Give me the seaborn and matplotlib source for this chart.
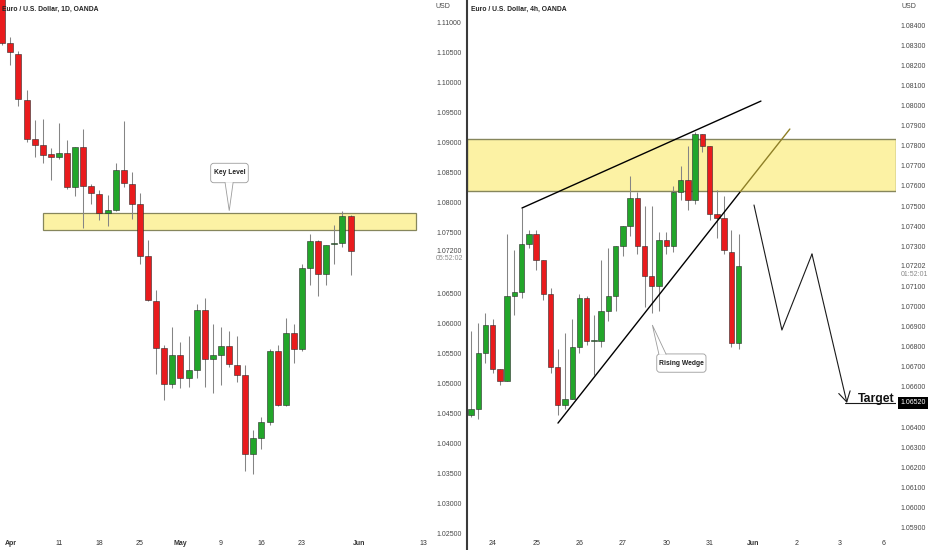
import matplotlib
matplotlib.use('Agg')
import matplotlib.pyplot as plt
import matplotlib.transforms as mtransforms
from matplotlib.lines import Line2D
from matplotlib.patches import Rectangle, FancyBboxPatch, Polygon
import seaborn as sns
import numpy as np

# EUR/USD daily (index 0 = Apr 1, -1 = Mar 31)
d_idx = list(range(-1, 43))
d_open = [1.1160, 1.1067, 1.1049, 1.0972, 1.0906, 1.0897, 1.0881, 1.0877, 1.0884, 1.0827,
          1.0893, 1.0829, 1.0815, 1.0783, 1.0789, 1.0855, 1.0832, 1.0798, 1.0712, 1.0637,
          1.0559, 1.0499, 1.0546, 1.0508, 1.0521, 1.0622, 1.0540, 1.0546, 1.0561, 1.0530,
          1.0514, 1.0382, 1.0408, 1.0435, 1.0554, 1.0463, 1.0584, 1.0556, 1.0692, 1.0736,
          1.0681, 1.0731, 1.0734, 1.0779]
d_high = [1.1182, 1.1076, 1.1054, 1.0988, 1.0938, 1.0940, 1.0891, 1.0934, 1.0905, 1.0894,
          1.0924, 1.0831, 1.0821, 1.0814, 1.0867, 1.0937, 1.0851, 1.0816, 1.0739, 1.0655,
          1.0564, 1.0594, 1.0569, 1.0578, 1.0631, 1.0642, 1.0599, 1.0594, 1.0586, 1.0578,
          1.0530, 1.0421, 1.0444, 1.0557, 1.0564, 1.0608, 1.0599, 1.0698, 1.0749, 1.0739,
          1.0730, 1.0764, 1.0787, 1.0780]
d_low = [1.1063, 1.1030, 1.0962, 1.0901, 1.0876, 1.0866, 1.0838, 1.0874, 1.0823, 1.0811,
         1.0758, 1.0798, 1.0771, 1.0762, 1.0786, 1.0826, 1.0773, 1.0699, 1.0636, 1.0515,
         1.0472, 1.0492, 1.0491, 1.0494, 1.0508, 1.0494, 1.0484, 1.0497, 1.0526, 1.0502,
         1.0353, 1.0349, 1.0390, 1.0430, 1.0462, 1.0462, 1.0534, 1.0553, 1.0663, 1.0645,
         1.0663, 1.0698, 1.0727, 1.0680]
d_close = [1.1067, 1.1051, 1.0973, 1.0906, 1.0897, 1.0880, 1.0877, 1.0884, 1.0827, 1.0893,
           1.0829, 1.0816, 1.0783, 1.0789, 1.0855, 1.0833, 1.0798, 1.0712, 1.0638, 1.0559,
           1.0499, 1.0546, 1.0508, 1.0521, 1.0622, 1.0540, 1.0546, 1.0561, 1.0531, 1.0514,
           1.0382, 1.0408, 1.0435, 1.0554, 1.0463, 1.0584, 1.0556, 1.0692, 1.0736, 1.0681,
           1.0730, 1.0734, 1.0779, 1.0720]
d_tick_pos = [0, 6, 11, 16, 21, 26, 31, 36, 43, 51]
d_tick_lab = ['Apr', '11', '18', '25', 'May', '9', '16', '23', 'Jun', '13']
d_price_ticks = [1.110, 1.105, 1.100, 1.095, 1.090, 1.085, 1.080, 1.075, 1.072,
                 1.065, 1.060, 1.055, 1.050, 1.045, 1.040, 1.035, 1.030, 1.025]
d_zone = [4.0, 50.07, 1.0755, 1.07828]

# EUR/USD 4h (bar 0 = first bar shown)
h_idx = list(range(0, 38))
h_open = [1.0646, 1.0649, 1.0677, 1.0691, 1.0669, 1.0663, 1.0705, 1.0707, 1.0731, 1.0736,
          1.0723, 1.0706, 1.0670, 1.0651, 1.0654, 1.0680, 1.0704, 1.0683, 1.0683, 1.0698,
          1.0705, 1.0730, 1.0740, 1.0754, 1.0730, 1.0715, 1.0710, 1.0733, 1.0730, 1.0757,
          1.0763, 1.0753, 1.0786, 1.0780, 1.0746, 1.0744, 1.0727, 1.0682]
h_high = [1.0688, 1.0692, 1.0697, 1.0694, 1.0669, 1.0736, 1.0728, 1.0749, 1.0738, 1.0738,
          1.0723, 1.0709, 1.0679, 1.0687, 1.0694, 1.0706, 1.0705, 1.0696, 1.0723, 1.0729,
          1.0730, 1.0740, 1.0765, 1.0757, 1.0750, 1.0750, 1.0737, 1.0737, 1.0760, 1.0770,
          1.0780, 1.0787, 1.0786, 1.0780, 1.0758, 1.0755, 1.0738, 1.0736]
h_low = [1.0645, 1.0644, 1.0672, 1.0667, 1.0661, 1.0663, 1.0696, 1.0704, 1.0729, 1.0718,
         1.0703, 1.0667, 1.0646, 1.0649, 1.0654, 1.0677, 1.0681, 1.0666, 1.0680, 1.0693,
         1.0698, 1.0725, 1.0735, 1.0726, 1.0700, 1.0697, 1.0698, 1.0726, 1.0727, 1.0753,
         1.0748, 1.0751, 1.0777, 1.0743, 1.0734, 1.0726, 1.0680, 1.0679]
h_close = [1.0649, 1.0677, 1.0691, 1.0669, 1.0663, 1.0705, 1.0707, 1.0731, 1.0736, 1.0723,
           1.0706, 1.0670, 1.0651, 1.0654, 1.0680, 1.0704, 1.0683, 1.0683, 1.0698, 1.0705,
           1.0730, 1.0740, 1.0754, 1.0730, 1.0715, 1.0710, 1.0733, 1.0730, 1.0757, 1.0763,
           1.0753, 1.0786, 1.0780, 1.0746, 1.0744, 1.0728, 1.0682, 1.0720]
h_tick_pos = [3, 9, 15, 21, 27, 33, 39, 45, 51, 57]
h_tick_lab = ['24', '25', '26', '27', '30', '31', 'Jun', '2', '3', '6']
h_price_ticks = [1.084, 1.083, 1.082, 1.081, 1.080, 1.079, 1.078, 1.077, 1.076, 1.075,
                 1.074, 1.073, 1.07202, 1.071, 1.070, 1.069, 1.068, 1.067, 1.066,
                 1.064, 1.063, 1.062, 1.061, 1.060, 1.059]
h_zone = [1.07575, 1.07833]

# drawings on the 4h chart (bar index, price)
wedge_up_x, wedge_up_y = [7.05, 40.1], [1.0749, 1.08022]
wedge_lo_x, wedge_lo_y = [12.03, 37.25], [1.0642, 1.07571]
wedge_ext_x, wedge_ext_y = [37.25, 44.1], [1.07571, 1.07883]
path_x, path_y = [39.14, 43.0, 47.16], [1.07505, 1.06883, 1.07261]
arrow_end = (52.0, 1.0652)
target_price = 1.0652
target_line_x = [51.7, 58.8]

GREEN = '#22a62a'
RED = '#e91b1d'
ZONE_FC = '#fcf2a4'
ZONE_EC = '#86865c'

sns.set_theme(style='white')
plt.rcParams['font.family'] = ['Liberation Sans', 'DejaVu Sans']


def draw_candles(ax, x, o, h, l, c, width, min_h):
    x, o, h, l, c = map(np.asarray, (x, o, h, l, c))
    cols = np.where(c >= o, GREEN, RED)
    ax.vlines(x, l, h, color='#858585', lw=0.75, zorder=2)
    bottoms = np.minimum(o, c)
    heights = np.maximum(np.abs(c - o), min_h)
    ax.bar(x, heights, width, bottom=bottoms, color=cols, edgecolor='#2a2a2a',
           linewidth=0.4, zorder=3)


def callout(ax, box, base, tip, text, aspect, rsize, down=True, eps=0.0):
    x0, x1, y0, y1 = box
    ax.add_patch(FancyBboxPatch((x0, y0), x1 - x0, y1 - y0,
                                boxstyle=f'round,pad=0,rounding_size={rsize}',
                                mutation_aspect=aspect, fc='white', ec='#9c9c9c',
                                lw=0.6, zorder=6))
    by = y0 + eps if down else y1 - eps
    ax.add_patch(Polygon([(base[0], by), tip, (base[1], by)], closed=False,
                         fc='white', ec='#9c9c9c', lw=0.6, zorder=7))
    ax.text((x0 + x1) / 2, (y0 + y1) / 2, text, ha='center', va='center',
            fontsize=4.9, fontweight='bold', color='#222222', zorder=8)


def style_axis(ax, ticks, labels, price_ticks, bold):
    for s in ax.spines.values():
        s.set_visible(False)
    ax.yaxis.tick_right()
    ax.set_yticks(price_ticks)
    ax.set_yticklabels([f'{p:.5f}' for p in price_ticks])
    ax.set_xticks(ticks)
    ax.set_xticklabels(labels)
    ax.tick_params(axis='y', length=0, pad=3, labelsize=5, labelcolor='#474747')
    ax.tick_params(axis='x', length=0, pad=3.5, labelsize=5, labelcolor='#333333')
    for t in ax.get_xticklabels():
        if t.get_text() in bold:
            t.set_fontweight('bold')
    ax.grid(False)


fig = plt.figure(figsize=(9.32, 5.5), dpi=100)
fig.patch.set_facecolor('white')

# ---- left: daily
ax1 = fig.add_axes([0, 15 / 550, 432 / 932, 535 / 550])
ax1.add_patch(Rectangle((d_zone[0], d_zone[2]), d_zone[1] - d_zone[0], d_zone[3] - d_zone[2],
                        fc=ZONE_FC, ec=ZONE_EC, lw=0.9, zorder=1))
draw_candles(ax1, d_idx, d_open, d_high, d_low, d_close, 0.74, 0.00012)
ax1.set_xlim(-1.28, 52.05)
ax1.set_ylim(1.024667, 1.113833)
style_axis(ax1, d_tick_pos, d_tick_lab, d_price_ticks, ('Apr', 'May', 'Jun'))
callout(ax1, (24.73, 29.37, 1.08338, 1.08662), (26.5, 27.5), (27.02, 1.07872),
        'Key Level', 0.00135, 0.37, down=True, eps=0.00008)

# ---- right: 4h
ax2 = fig.add_axes([467 / 932, 15 / 550, 429 / 932, 535 / 550])
ax2.set_xlim(-0.553, 58.78)
ax2.set_ylim(1.058632, 1.085249)
x0, x1 = ax2.get_xlim()
ax2.add_patch(Rectangle((x0, h_zone[0]), x1 - x0, h_zone[1] - h_zone[0],
                        fc=ZONE_FC, ec=ZONE_EC, lw=1.0, zorder=1))
draw_candles(ax2, h_idx, h_open, h_high, h_low, h_close, 0.74, 0.00004)
style_axis(ax2, h_tick_pos, h_tick_lab, h_price_ticks, ('Jun',))

ax2.plot(wedge_up_x, wedge_up_y, color='black', lw=1.0, zorder=5)
ax2.plot(wedge_lo_x, wedge_lo_y, color='black', lw=1.0, zorder=5)
ax2.plot(wedge_ext_x, wedge_ext_y, color='#8e7f26', lw=1.0, zorder=5)
ax2.plot(path_x, path_y, color='#1a1a1a', lw=0.8, zorder=5)
ax2.annotate('', xy=arrow_end, xytext=(path_x[-1], path_y[-1]),
             arrowprops=dict(arrowstyle='->,head_length=0.6,head_width=0.35', lw=0.8,
                             color='#1a1a1a', shrinkA=0, shrinkB=0, mutation_scale=12),
             zorder=5)
ax2.plot(target_line_x, [target_price] * 2, color='#1a1a1a', lw=0.8, zorder=5)
ax2.text(53.45, 1.06525, 'Target', ha='left', va='baseline', fontsize=8.8,
         fontweight='bold', color='#111111', zorder=6)
callout(ax2, (25.69, 32.5, 1.06673, 1.06764), (26.0, 27.0), (25.08, 1.06908),
        'Rising Wedge', 3.6e-4, 0.415, down=False, eps=0.00003)

blend = mtransforms.blended_transform_factory(ax2.transAxes, ax2.transData)
ax2.annotate('1.06520', xy=(1, target_price), xycoords=blend, xytext=(3.4, 0),
             textcoords='offset points', ha='left', va='center', fontsize=5,
             color='white', bbox=dict(fc='black', ec='none', pad=1.6))

# header texts and countdowns
fig.text(2 / 932, 1 - 9.5 / 550, 'Euro / U.S. Dollar, 1D, OANDA', fontsize=4.9,
         fontweight='bold', color='#222222', va='center')
fig.text(471 / 932, 1 - 9.5 / 550, 'Euro / U.S. Dollar, 4h, OANDA', fontsize=4.9,
         fontweight='bold', color='#222222', va='center')
fig.text(436 / 932, 1 - 7 / 550, 'USD', fontsize=5, color='#474747', va='center')
fig.text(901 / 932, 1 - 7 / 550, 'USD', fontsize=5, color='#474747', va='center')
fig.text(436 / 932, 1 - 259 / 550, '05:52:02', fontsize=5, color='#8a8a8a', va='center')
fig.text(901 / 932, 1 - 275 / 550, '01:52:01', fontsize=5, color='#8a8a8a', va='center')

fig.add_artist(Line2D([466.5 / 932, 466.5 / 932], [0, 1], color='#3a3a3a', lw=1.5))

fig.savefig('out.png', dpi=100)
